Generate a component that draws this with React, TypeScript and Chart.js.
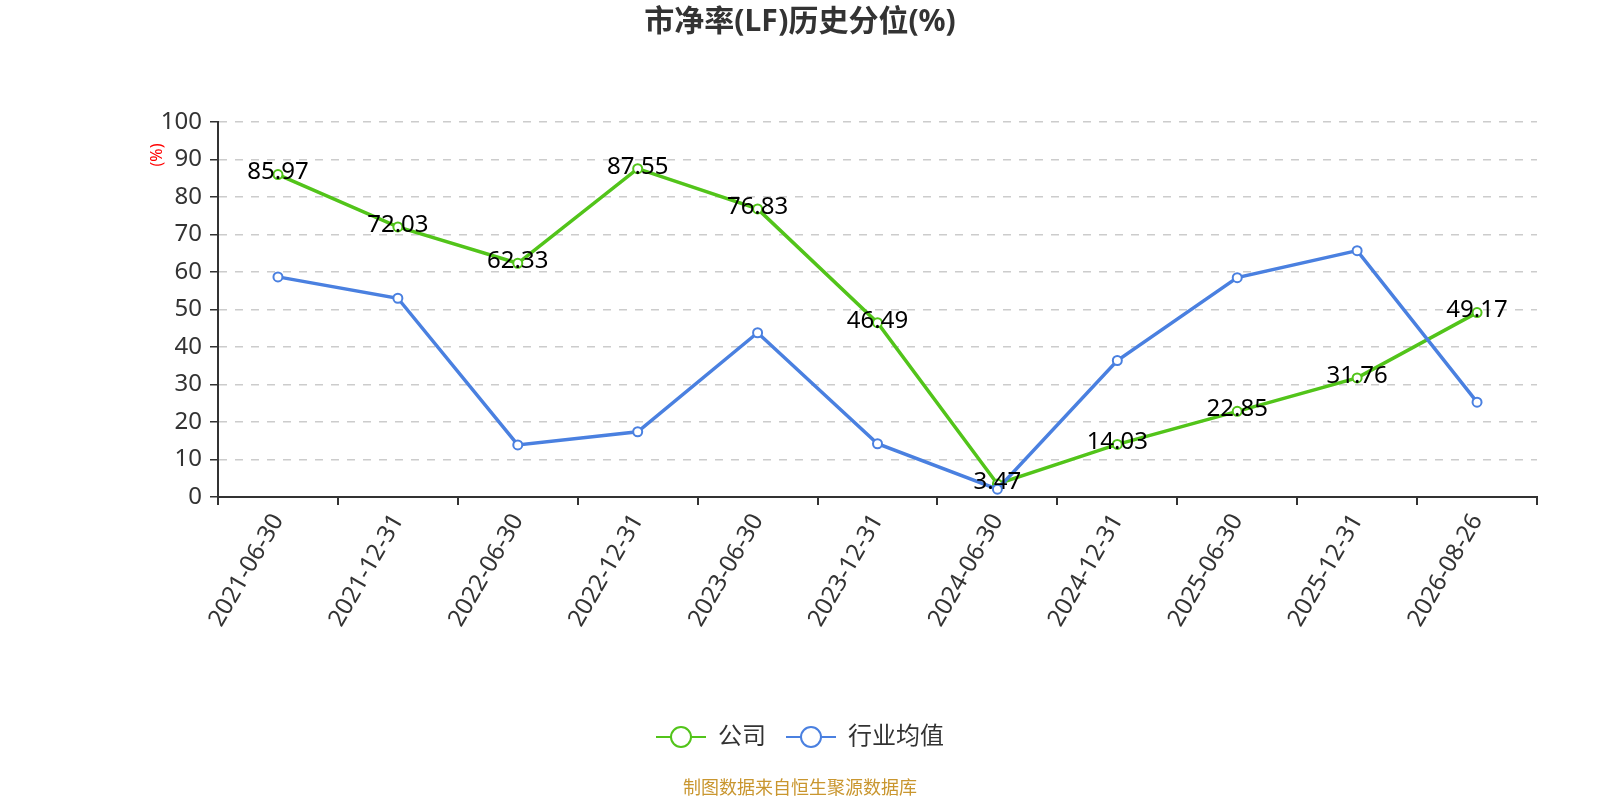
import React, { useEffect, useRef } from 'react'
import { Chart, registerables } from 'chart.js'

Chart.register(...registerables)

const dates = [
	'2021-06-30',
	'2021-12-31',
	'2022-06-30',
	'2022-12-31',
	'2023-06-30',
	'2023-12-31',
	'2024-06-30',
	'2024-12-31',
	'2025-06-30',
	'2025-12-31',
	'2026-08-26',
]
const companyValues = [85.97, 72.03, 62.33, 87.55, 76.83, 46.49, 3.47, 14.03, 22.85, 31.76, 49.17]
const industryValues = [58.7, 53.0, 13.9, 17.4, 43.8, 14.2, 2.1, 36.4, 58.5, 65.7, 25.3]
const yTicks = [0, 10, 20, 30, 40, 50, 60, 70, 80, 90, 100]

const GREEN = '#52c41a'
const BLUE = '#4a80e0'
const FONT = '"Noto Sans", "Noto Sans CJK SC", sans-serif'

const legendIcon = (color: string) => {
	const c = document.createElement('canvas')
	c.width = 50
	c.height = 24
	const g = c.getContext('2d')
	if (g) {
		g.strokeStyle = color
		g.lineWidth = 2
		g.beginPath()
		g.moveTo(0, 12)
		g.lineTo(50, 12)
		g.stroke()
		g.beginPath()
		g.arc(25, 12, 10, 0, Math.PI * 2)
		g.fillStyle = '#fff'
		g.fill()
		g.stroke()
	}
	return c
}

// value labels, unit label and source note
const extras = {
	id: 'extras',
	afterDatasetsDraw(chart: any) {
		const ctx = chart.ctx
		const meta = chart.getDatasetMeta(0)
		ctx.save()
		ctx.font = `24px ${FONT}`
		ctx.fillStyle = '#000'
		ctx.textAlign = 'center'
		ctx.textBaseline = 'middle'
		meta.data.forEach((pt: any, i: number) => {
			ctx.fillText(companyValues[i].toFixed(2), pt.x, pt.y - 2)
		})
		ctx.restore()
	},
	afterDraw(chart: any) {
		const ctx = chart.ctx
		ctx.save()
		ctx.translate(157, 155)
		ctx.rotate(-Math.PI / 2)
		ctx.font = `16px ${FONT}`
		ctx.fillStyle = '#ff0000'
		ctx.textAlign = 'center'
		ctx.textBaseline = 'middle'
		ctx.fillText('(%)', 0, 0)
		ctx.restore()
		ctx.save()
		ctx.font = `18px ${FONT}`
		ctx.fillStyle = '#c9962f'
		ctx.textAlign = 'center'
		ctx.textBaseline = 'middle'
		ctx.fillText('制图数据来自恒生聚源数据库', 800, 789)
		ctx.restore()
	},
}

const App: React.FC = () => {
	const chartRef = useRef<HTMLCanvasElement>(null)

	useEffect(() => {
		if (!chartRef.current) return
		const context = chartRef.current.getContext('2d')
		if (!context) return
		const icons = [legendIcon(GREEN), legendIcon(BLUE)]

		const chart = new Chart(context, {
			type: 'line',
			data: {
				labels: dates,
				datasets: [
					{
						label: '公司',
						data: companyValues,
						borderColor: GREEN,
						backgroundColor: '#fff',
						borderWidth: 3.5,
						pointRadius: 4.5,
						pointBorderWidth: 2,
						pointBackgroundColor: '#fff',
						pointBorderColor: GREEN,
						order: 1,
					},
					{
						label: '行业均值',
						data: industryValues,
						borderColor: BLUE,
						backgroundColor: '#fff',
						borderWidth: 3.5,
						pointRadius: 4.5,
						pointBorderWidth: 2,
						pointBackgroundColor: '#fff',
						pointBorderColor: BLUE,
						order: 0,
					},
				],
			},
			options: {
				animation: false,
				responsive: true,
				maintainAspectRatio: false,
				layout: { padding: { left: 0, right: 0, top: 0, bottom: 41 } },
				plugins: {
					title: {
						display: true,
						text: '市净率(LF)历史分位(%)',
						color: '#333',
						font: { family: FONT, size: 30, weight: 'bold' },
						padding: { top: 4, bottom: 82 },
					},
					legend: {
						position: 'bottom',
						labels: {
							usePointStyle: true,
							pointStyleWidth: 50,
							padding: 20,
							color: '#333',
							font: { family: FONT, size: 24 },
							sort: (a: any, b: any) => a.datasetIndex - b.datasetIndex,
							generateLabels: (ch: any) =>
								Chart.defaults.plugins.legend.labels
									.generateLabels(ch)
									.map((l: any) => ({ ...l, pointStyle: icons[l.datasetIndex] })),
						},
					},
					tooltip: { enabled: false },
				},
				scales: {
					x: {
						offset: true,
						grid: {
							offset: true,
							drawOnChartArea: false,
							tickLength: 8,
							tickColor: '#333',
							lineWidth: 2,
						},
						border: { color: '#333', width: 2 },
						ticks: {
							color: '#333',
							font: { family: FONT, size: 24 },
							minRotation: 60,
							maxRotation: 60,
							autoSkip: false,
							padding: 4,
						},
						afterFit: (scale: any) => {
							scale.height = 208
						},
					},
					y: {
						min: 0,
						max: 100,
						afterBuildTicks: (scale: any) => {
							scale.ticks = yTicks.map((v) => ({ value: v }))
						},
						grid: {
							color: '#cccccc',
							lineWidth: 1.5,
							tickLength: 8,
							tickColor: '#333',
						},
						border: { color: '#333', width: 2, dash: [8, 8] },
						ticks: {
							color: '#333',
							font: { family: FONT, size: 24 },
							padding: 8,
						},
						afterFit: (scale: any) => {
							scale.width = 218
						},
					},
					// empty right-hand gutter so title and legend stay centred on the page
					gutter: {
						type: 'linear',
						position: 'right',
						min: 0,
						max: 100,
						grid: { drawOnChartArea: false, drawTicks: false },
						border: { display: false },
						ticks: { display: false },
						afterFit: (scale: any) => {
							scale.width = 63
						},
					},
				},
			},
			plugins: [extras],
		})

		return () => {
			chart.destroy()
		}
	}, [])

	return (
		<div style={{ position: 'fixed', left: 0, top: 0, width: 1600, height: 800, background: '#fff' }}>
			<canvas ref={chartRef} />
		</div>
	)
}

export default App
